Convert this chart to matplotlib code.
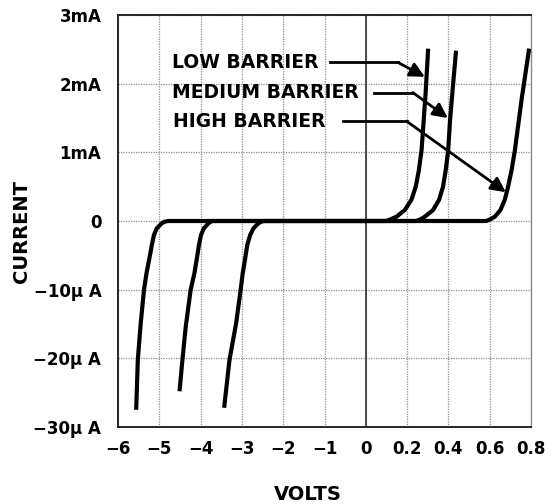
import numpy as np
import matplotlib
matplotlib.use("Agg")
import matplotlib.pyplot as plt

plt.rcParams['font.family'] = ['DejaVu Sans']
plt.rcParams['font.weight'] = 'bold'

# ---- data (volts; reverse current in uA, forward current in mA) ----
rev_a_v = [-4.79, -4.88, -4.94, -5.06, -5.13, -5.18, -5.24, -5.31, -5.37, -5.45, -5.52, -5.56]
rev_a_ua = [0.0, -0.12, -0.33, -1.06, -2.04, -3.49, -5.43, -7.61, -10.0, -14.9, -20.2, -27.5]
rev_b_v = [-3.73, -3.76, -3.81, -3.92, -3.99, -4.04, -4.09, -4.15, -4.24, -4.36, -4.44, -4.51]
rev_b_ua = [0.0, -0.12, -0.33, -1.06, -2.04, -3.49, -5.43, -7.61, -10.0, -15.4, -20.2, -24.8]
rev_c_v = [-2.48, -2.54, -2.60, -2.72, -2.80, -2.87, -2.92, -2.98, -3.03, -3.14, -3.30, -3.43]
rev_c_ua = [0.0, -0.12, -0.33, -1.06, -2.04, -3.49, -5.43, -7.61, -10.0, -14.9, -20.2, -27.2]

fwd_low_v = [0.0, 0.100, 0.124, 0.149, 0.189, 0.221, 0.242, 0.257, 0.270, 0.289, 0.302]
fwd_low_ma = [0.0, 0.0, 0.03, 0.063, 0.16, 0.31, 0.50, 0.74, 1.03, 1.83, 2.51]
fwd_med_v = [0.0, 0.245, 0.268, 0.286, 0.326, 0.355, 0.374, 0.387, 0.399, 0.408, 0.423, 0.437]
fwd_med_ma = [0.0, 0.0, 0.03, 0.063, 0.16, 0.31, 0.50, 0.74, 1.03, 1.47, 2.0, 2.48]
fwd_high_v = [0.0, 0.584, 0.606, 0.625, 0.652, 0.673, 0.689, 0.706, 0.722, 0.754, 0.791]
fwd_high_ma = [0.0, 0.0, 0.03, 0.063, 0.16, 0.31, 0.50, 0.74, 1.03, 1.76, 2.51]

x_ticks = [-6, -5, -4, -3, -2, -1, 0, 0.2, 0.4, 0.6, 0.8]
x_labels = ['\u22126', '\u22125', '\u22124', '\u22123', '\u22122', '\u22121', '0', '0.2', '0.4', '0.6', '0.8']
y_ticks = [3, 2, 1, 0, -0.01, -0.02, -0.03]   # mA
y_labels = ['3mA', '2mA', '1mA', '0', '\u221210\u03bc A', '\u221220\u03bc A', '\u221230\u03bc A']

labels = ['LOW BARRIER', 'MEDIUM BARRIER', 'HIGH BARRIER']


# ---- piecewise scales (as on the original graph paper) ----
def xf(v):
    v = np.asarray(v, float)
    return np.where(v <= 0, v, v / 0.2)


def xi(p):
    p = np.asarray(p, float)
    return np.where(p <= 0, p, p * 0.2)


def yf(i):
    i = np.asarray(i, float)
    return np.where(i < 0, i * 100.0, i)


def yi(p):
    p = np.asarray(p, float)
    return np.where(p < 0, p / 100.0, p)


fig = plt.figure(figsize=(5.52, 5.04), dpi=100)
ax = fig.add_axes([118 / 552, 1 - 427 / 504, (531 - 118) / 552, (427 - 15) / 504])
ax.set_xscale('function', functions=(xf, xi))
ax.set_yscale('function', functions=(yf, yi))
ax.set_xlim(-6, 0.8)
ax.set_ylim(-0.03, 3)

ax.set_xticks(x_ticks)
ax.set_xticklabels(x_labels)
ax.set_yticks(y_ticks)
ax.set_yticklabels(y_labels)
ax.minorticks_off()
ax.tick_params(length=0, labelsize=12)
ax.tick_params(axis='y', pad=12)
ax.tick_params(axis='x', pad=9)

ax.grid(True, color='0.55', ls=(0, (1, 1)), lw=0.9)
ax.set_axisbelow(True)
ax.axvline(0, color='0.25', lw=1.3, zorder=1)

for s in ax.spines.values():
    s.set_color('0.15')
    s.set_linewidth(1.4)
ax.spines['right'].set_color('0.55')
ax.spines['right'].set_linewidth(1.0)

curves = [
    (rev_a_v, rev_a_ua, fwd_high_v, fwd_high_ma),
    (rev_b_v, rev_b_ua, fwd_med_v, fwd_med_ma),
    (rev_c_v, rev_c_ua, fwd_low_v, fwd_low_ma),
]
for rv, ri, fv, fi in curves:
    vs = list(reversed(rv)) + fv[1:]
    cur = [c / 1000.0 for c in reversed(ri)] + fi[1:]
    ax.plot(vs, cur, color='black', lw=3.0, solid_capstyle='butt',
            solid_joinstyle='round', zorder=3)

# labels with bent arrows
ann = [
    (labels[0], (-4.70, 2.31), (-0.87, 2.31), (0.155, 2.31), (0.286, 2.10)),
    (labels[1], (-4.70, 1.87), (0.04, 1.87), (0.228, 1.87), (0.397, 1.50)),
    (labels[2], (-4.67, 1.45), (-0.56, 1.45), (0.199, 1.45), (0.678, 0.42)),
]
for txt, tpos, lstart, bend, tip in ann:
    ax.text(tpos[0], tpos[1], txt, fontsize=13.5, fontweight='bold',
            ha='left', va='center', zorder=4)
    ax.plot([lstart[0], bend[0]], [lstart[1], bend[1]], color='black', lw=2, zorder=4)
    ax.annotate('', xy=tip, xytext=bend,
                arrowprops=dict(arrowstyle='-|>', lw=2, color='black',
                                mutation_scale=22, shrinkA=0, shrinkB=0),
                zorder=4)

fig.text(22 / 552, 1 - 232 / 504, 'CURRENT', rotation=90, fontsize=14,
         fontweight='bold', ha='center', va='center')
fig.text(308 / 552, 1 - 494 / 504, 'VOLTS', fontsize=14,
         fontweight='bold', ha='center', va='center')

fig.savefig('out.png', dpi=100)
